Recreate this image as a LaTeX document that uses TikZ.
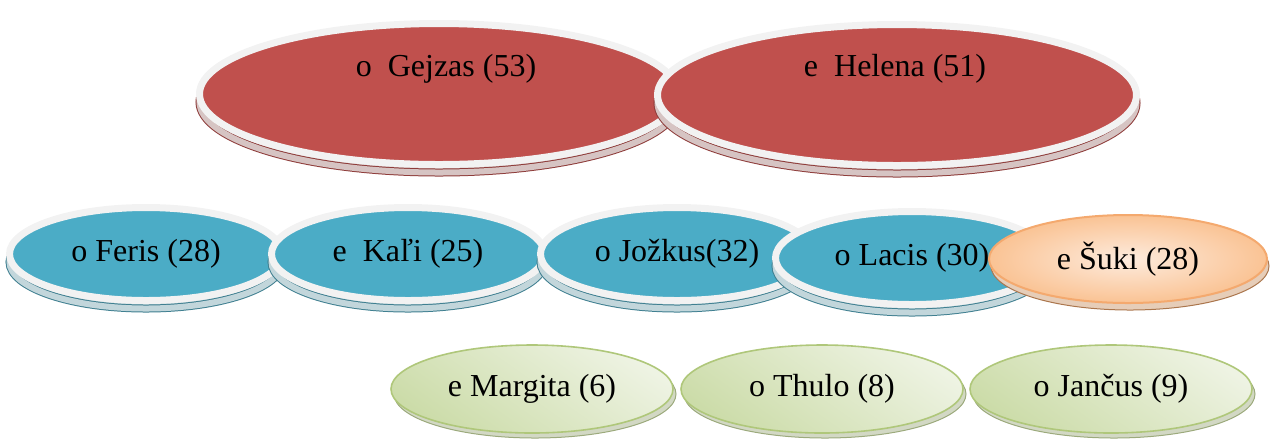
\documentclass[tikz,border=0pt]{standalone}
\usepackage{fontspec}
\setmainfont{Liberation Serif}
\usepackage{xcolor}
\usepackage{tikz}
\usetikzlibrary{shapes.geometric,shadows}

\definecolor{rossoA}{HTML}{C0504D}
\definecolor{bluA}{HTML}{4BACC6}
\definecolor{cornice}{HTML}{F2F2F2}
\definecolor{ombraRossa}{HTML}{D6C4C3}
\definecolor{lineaRossa}{HTML}{8E3C3A}
\definecolor{ombraBlu}{HTML}{C2D6DB}
\definecolor{lineaBlu}{HTML}{3F7F90}
\definecolor{verdeChiaro}{HTML}{EEF3E3}
\definecolor{verdeScuro}{HTML}{CCDCA9}
\definecolor{verdeBordo}{HTML}{AFC77A}
\definecolor{ombraVerde}{HTML}{D2D8C4}
\definecolor{aranChiaro}{HTML}{FDEBDD}
\definecolor{aranScuro}{HTML}{FAC394}
\definecolor{aranBordo}{HTML}{F4A96E}
\definecolor{ombraArancio}{HTML}{E6CDB8}

\tikzset{
  nome/.style={font=\fontsize{16pt}{19pt}\selectfont, inner sep=0pt},
  rosso/.style={ellipse, nome, fill=rossoA, draw=cornice, line width=3.5pt,
    minimum width=239.5pt, minimum height=70.5pt,
    general shadow={shadow yshift=-4pt, fill=ombraRossa, draw=lineaRossa, line width=4pt},
    general shadow={shadow yshift=-4pt, draw=ombraRossa, line width=3pt}},
  blu/.style={ellipse, nome, fill=bluA, draw=cornice, line width=3.5pt,
    minimum width=136.5pt, minimum height=46.5pt,
    general shadow={shadow yshift=-4pt, fill=ombraBlu, draw=lineaBlu, line width=4pt},
    general shadow={shadow yshift=-4pt, draw=ombraBlu, line width=3pt}},
  arancio/.style={ellipse, nome, inner color=aranChiaro, outer color=aranScuro,
    draw=aranBordo, line width=1pt, minimum width=139pt, minimum height=44pt,
    general shadow={shadow xshift=1pt, shadow yshift=-3.5pt, fill=ombraArancio,
      draw=aranBordo!70!black, line width=0.5pt}},
  verde/.style={ellipse, nome, top color=verdeChiaro, bottom color=verdeScuro,
    shading angle=-35, draw=verdeBordo, line width=0.8pt,
    minimum width=141pt, minimum height=44pt,
    general shadow={shadow xshift=1.5pt, shadow yshift=-2.5pt, fill=ombraVerde,
      draw=verdeBordo!60!gray, line width=0.5pt}}
}

\begin{document}
\begin{tikzpicture}[x=0.5pt, y=-0.5pt]
  \useasboundingbox (0,0) rectangle (1273,441);

  % Genitori
  \node[rosso] (gejzas) at (439,94) {};
  \node[rosso] (helena) at (897,95) {};
  \node[nome] (tGejzas) at (446,69) {o\ \ Gejzas (53)};
  \node[nome] (tHelena) at (895,69) {e\ \ Helena (51)};

  % Figli
  \node[blu] (feris) at (146,254) {o Feris (28)};
  \node[blu] (kali) at (408,254) {e\ \ Kaľi (25)};
  \node[blu] (jozkus) at (677,254) {o Jožkus(32)};
  \node[blu] (lacis) at (912,258) {o Lacis (30)};
  \node[arancio] (suki) at (1128,259) {e Šuki (28)};

  % Nipoti
  \node[verde] (margita) at (532,389) {e Margita (6)};
  \node[verde] (thulo) at (822,389) {o Thulo (8)};
  \node[verde] (jancus) at (1111,389) {o Jančus (9)};
\end{tikzpicture}
\end{document}
